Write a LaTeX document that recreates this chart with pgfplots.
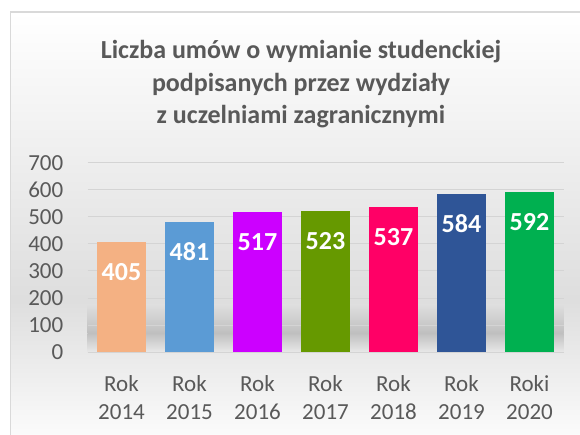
\documentclass[border=0pt]{standalone}
\usepackage{pgfplots}
\pgfplotsset{compat=1.18}
\usepackage{fontspec}
\setmainfont{Carlito}
\usetikzlibrary{backgrounds}
\definecolor{txt}{HTML}{595959}
\definecolor{gridc}{HTML}{D4D4D4}
\definecolor{cA}{HTML}{F4B183}
\definecolor{cB}{HTML}{5B9BD5}
\definecolor{cC}{HTML}{CC00FF}
\definecolor{cD}{HTML}{669900}
\definecolor{cE}{HTML}{FF0066}
\definecolor{cF}{HTML}{2F5597}
\definecolor{cG}{HTML}{00B050}
\begin{document}
\begin{tikzpicture}[x=1pt,y=1pt]
\useasboundingbox (0,0) rectangle (580,434);
\begin{axis}[
  at={(87.5pt,82pt)}, anchor=south west, scale only axis,
  width=476pt, height=189.3pt,
  xmin=-0.5, xmax=6.5, ymin=0, ymax=700,
  ytick={0,100,...,700},
  xtick={0,...,6},
  xticklabels={{Rok\\2014},{Rok\\2015},{Rok\\2016},{Rok\\2017},{Rok\\2018},{Rok\\2019},{Roki\\2020}},
  ymajorgrids, grid style={draw=gridc, line width=0.8pt},
  axis line style={draw=none},
  major tick length=0pt,
  ybar, bar width=49pt, bar shift=0pt,
  nodes near coords,
  every node near coord/.append style={font=\fontsize{26}{30}\selectfont\bfseries, color=white, anchor=center, yshift=-30pt},
  /pgf/number format/assume math mode=true,
  ticklabel style={font=\fontsize{23}{28}\selectfont, color=txt},
  yticklabel style={inner sep=0pt, anchor=east, xshift=-24pt},
  xticklabel style={inner sep=0pt, anchor=north, yshift=-23pt, align=center},
  clip=false,
]
\addplot[fill=cA, draw=none] coordinates {(0,405)};
\addplot[fill=cB, draw=none] coordinates {(1,481)};
\addplot[fill=cC, draw=none] coordinates {(2,517)};
\addplot[fill=cD, draw=none] coordinates {(3,523)};
\addplot[fill=cE, draw=none] coordinates {(4,537)};
\addplot[fill=cF, draw=none] coordinates {(5,584)};
\addplot[fill=cG, draw=none] coordinates {(6,592)};
\end{axis}
\node[anchor=north, inner sep=0pt, align=center, font=\fontsize{26}{32.5}\selectfont\bfseries, text=txt] at (301,393.5) {Liczba umów o wymianie studenckiej\\podpisanych przez wydziały\\z uczelniami zagranicznymi};
\begin{scope}[on background layer]
\shade[top color=white, bottom color=black!13] (10.5,134) rectangle (600,422);
\shade[top color=black!13, bottom color=white] (10.5,-20) rectangle (600,134);
\shade[top color=black!13, bottom color=black!25] (87.5,101) rectangle (563.5,129);
\shade[top color=black!25, bottom color=black!9] (87.5,82) rectangle (563.5,101);
\draw[black!15, line width=1.2pt] (10.5,-20) -- (10.5,422) -- (600,422);
\end{scope}
\end{tikzpicture}
\end{document}
